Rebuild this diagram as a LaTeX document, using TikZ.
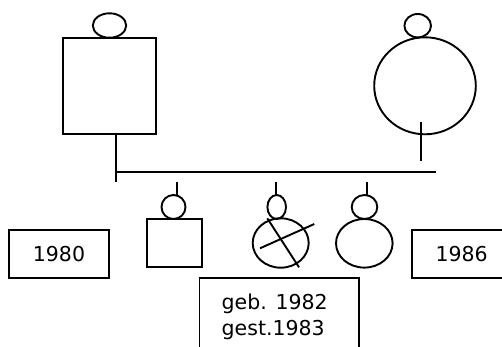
\documentclass[tikz,border=0pt]{standalone}
\usepackage{fontspec}
\setmainfont{DejaVu Sans}
\usetikzlibrary{shapes.geometric}
\begin{document}
\begin{tikzpicture}[x=1pt,y=-1pt, line width=1.9pt,
  sym/.style={draw, inner sep=0pt, outer sep=0pt},
  sq/.style={sym, rectangle},
  el/.style={sym, ellipse},
  lbl/.style={draw, inner sep=0pt, outer sep=0pt, rectangle, font=\fontsize{20.5}{26}\selectfont},
  txt/.style={inner sep=0pt, outer sep=0pt, font=\fontsize{20.5}{26}\selectfont, anchor=base west}]
\useasboundingbox (0,0) rectangle (502,347);
\clip (0,0) rectangle (502,347);
% parents
\node[sq, minimum width=93.6pt, minimum height=96.3pt] (father) at (109.5,85.85) {};
\node[el, minimum width=33.4pt, minimum height=24.4pt] (fhead) at (109.5,25.5) {};
\node[el, minimum width=101.6pt, minimum height=97pt] (mother) at (425,85.8) {};
\node[el, minimum width=26.6pt, minimum height=23.4pt] (mhead) at (417.7,25.7) {};
% children
\node[el, minimum width=24pt, minimum height=24pt] (shead) at (173.5,207) {};
\node[sq, minimum width=55.3pt, minimum height=48.3pt] (son) at (174.35,243.15) {};
\node[el, minimum width=18.6pt, minimum height=24pt] (d1head) at (276.7,207) {};
\node[el, minimum width=56pt, minimum height=49.4pt] (d1) at (280.7,243) {};
\node[el, minimum width=25.6pt, minimum height=24pt] (d2head) at (364.5,207) {};
\node[el, minimum width=56.6pt, minimum height=48.6pt] (d2) at (364.3,243.3) {};
% label boxes
\node[lbl, minimum width=99.4pt, minimum height=48pt] (b1980) at (59,254) {1980};
\node[lbl, minimum width=98.7pt, minimum height=47.7pt] (b1986) at (461.65,253.85) {1986};
\node[sq, minimum width=159.8pt, minimum height=82pt, anchor=north west] (gebbox) at (199.5,278) {};
\node[txt] (geb) at (221.7,309.3) {geb. 1982};
\node[txt] (gest) at (221.7,335.6) {gest.1983};
% connectors
\coordinate (fdrop) at (116,181.7);
\draw (father.south -| fdrop) -- (fdrop);
\coordinate (sibL) at (116,171.7);
\coordinate (sibR) at (435.7,171.7);
\draw (sibL) -- (sibR);
\coordinate (mtop) at (420.7,122.3);
\coordinate (mbot) at (420.7,161);
\draw (mtop) -- (mbot);
\coordinate (st) at (176.7,181.7);
\draw (st) -- (st |- shead.north);
\coordinate (d1t) at (276,181.7);
\draw (d1t) -- (d1t |- d1head.north);
\coordinate (d2t) at (366.7,181.7);
\draw (d2t) -- (d2t |- d2head.north);
% cross on deceased daughter
\coordinate (c1a) at (267.3,218.3);
\coordinate (c1b) at (299,267.3);
\coordinate (c2a) at (260,248.3);
\coordinate (c2b) at (314.3,224);
\draw (c1a) -- (c1b);
\draw (c2a) -- (c2b);
\end{tikzpicture}
\end{document}
